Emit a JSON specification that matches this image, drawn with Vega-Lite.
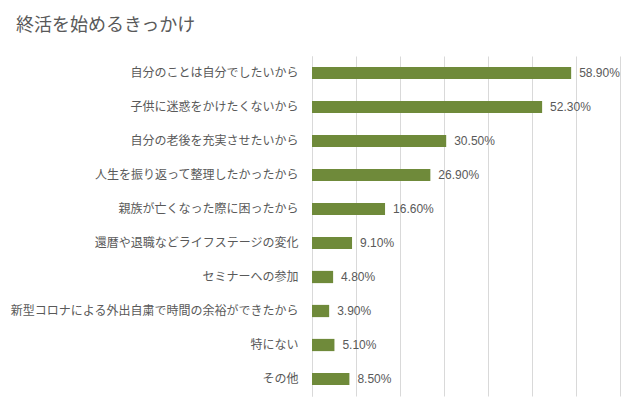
{
  "$schema": "https://vega.github.io/schema/vega-lite/v6.json",
  "width": 308,
  "height": 340,
  "autosize": {"type": "none"},
  "padding": {"left": 312, "top": 56, "right": 23, "bottom": 20},
  "background": "white",
  "title": {
    "text": "終活を始めるきっかけ",
    "anchor": "start",
    "frame": "group",
    "orient": "top",
    "dx": -296,
    "offset": 21,
    "fontSize": 18,
    "font": "Noto Sans CJK JP",
    "fontWeight": "normal",
    "color": "#595959"
  },
  "config": {
    "view": {"stroke": null},
    "font": "Noto Sans CJK JP"
  },
  "data": {
    "values": [
      {"reason": "自分のことは自分でしたいから", "pct": 0.589},
      {"reason": "子供に迷惑をかけたくないから", "pct": 0.523},
      {"reason": "自分の老後を充実させたいから", "pct": 0.305},
      {"reason": "人生を振り返って整理したかったから", "pct": 0.269},
      {"reason": "親族が亡くなった際に困ったから", "pct": 0.166},
      {"reason": "還暦や退職などライフステージの変化", "pct": 0.091},
      {"reason": "セミナーへの参加", "pct": 0.048},
      {"reason": "新型コロナによる外出自粛で時間の余裕ができたから", "pct": 0.039},
      {"reason": "特にない", "pct": 0.051},
      {"reason": "その他", "pct": 0.085}
    ]
  },
  "encoding": {
    "y": {
      "field": "reason",
      "type": "nominal",
      "sort": null,
      "scale": {"paddingInner": 0.64, "paddingOuter": 0.32},
      "axis": {
        "title": null,
        "ticks": false,
        "domain": true,
        "domainColor": "#D9D9D9",
        "labelFontSize": 12,
        "labelColor": "#595959",
        "labelPadding": 14,
        "labelLimit": 320
      }
    },
    "x": {
      "field": "pct",
      "type": "quantitative",
      "scale": {"domain": [0, 0.7], "nice": false},
      "axis": {
        "title": null,
        "labels": false,
        "ticks": false,
        "domain": false,
        "grid": true,
        "gridColor": "#D9D9D9",
        "values": [0, 0.1, 0.2, 0.3, 0.4, 0.5, 0.6, 0.7]
      }
    }
  },
  "layer": [
    {"mark": {"type": "bar", "color": "#6F8A3A"}},
    {
      "mark": {"type": "text", "align": "left", "baseline": "middle", "dx": 8, "fontSize": 12, "color": "#595959", "font": "Liberation Sans"},
      "encoding": {"text": {"field": "pct", "type": "quantitative", "format": ".2%"}}
    }
  ]
}
